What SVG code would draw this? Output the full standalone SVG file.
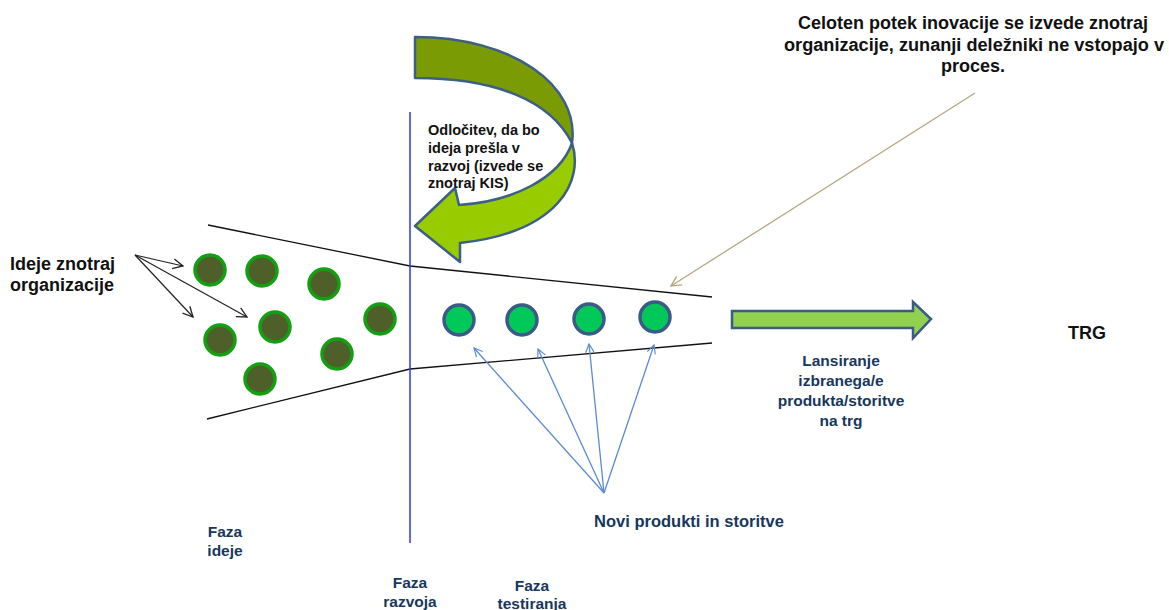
<svg xmlns="http://www.w3.org/2000/svg" width="1169" height="610" viewBox="0 0 1169 610">
<style>
  text { font-family: "Liberation Sans", Arial, sans-serif; font-weight: bold; }
  .blk { fill: #111111; }
  .navy { fill: #17375e; }
  .funnel { stroke: #111111; stroke-width: 1.3; fill: none; }
  .idea { fill: #4f5f2a; stroke: #12a012; stroke-width: 3.5; }
  .prod { fill: #00c95a; stroke: #3b5a88; stroke-width: 3.5; }
  .blue { stroke: #5b8bd0; stroke-width: 1.3; fill: none; }
  .black { stroke: #222222; stroke-width: 1.2; fill: none; }
  .tan { stroke: #b3a87e; stroke-width: 1.3; fill: none; }
</style>
<defs>
  <marker id="mBlue" viewBox="0 0 12 12" refX="11" refY="6" markerWidth="10" markerHeight="10" orient="auto" markerUnits="userSpaceOnUse">
    <path d="M1,1 L11,6 L1,11" fill="none" stroke="#5b8bd0" stroke-width="1.4"/>
  </marker>
  <marker id="mBlack" viewBox="0 0 12 12" refX="11" refY="6" markerWidth="12" markerHeight="12" orient="auto" markerUnits="userSpaceOnUse">
    <path d="M1,1 L11,6 L1,11" fill="none" stroke="#222222" stroke-width="1.3"/>
  </marker>
  <marker id="mTan" viewBox="0 0 12 12" refX="11" refY="6" markerWidth="12" markerHeight="12" orient="auto" markerUnits="userSpaceOnUse">
    <path d="M1,1 L11,6 L1,11" fill="none" stroke="#b3a87e" stroke-width="1.4"/>
  </marker>
</defs>
<rect width="1169" height="610" fill="#ffffff"/>

<g id="funnel">
  <polyline class="funnel" points="208,225 410,266 712,297"/>
  <polyline class="funnel" points="207,419 410,369 712,343"/>
</g>

<g id="phase-divider">
  <line x1="410" y1="112" x2="410" y2="543" stroke="#3333ee" stroke-width="1.5"/>
</g>

<g id="curved-arrow">
  <path d="M415,37 C512,37 580,85 572,143 C550,100 495,78 415,78 Z" fill="#7a9b03" stroke="#3d5f86" stroke-width="2.5" stroke-linejoin="round"/>
  <path d="M572,143 C584,180 560,232 460,243 L460,262 L415,226 L455,188 L459,205 C512,202 560,178 572,143 Z" fill="#99cc00" stroke="#3d5f86" stroke-width="2.5" stroke-linejoin="round"/>
</g>

<g id="decision-text">
  <text class="blk" font-size="14.5" x="428" y="135">Odločitev, da bo</text>
  <text class="blk" font-size="14.5" x="428" y="153">ideja prešla v</text>
  <text class="blk" font-size="14.5" x="428" y="171">razvoj (izvede se</text>
  <text class="blk" font-size="14.5" x="428" y="188">znotraj KIS)</text>
</g>

<g id="ideas">
  <circle class="idea" cx="210" cy="270" r="15"/>
  <circle class="idea" cx="262" cy="271" r="15"/>
  <circle class="idea" cx="324" cy="284" r="15"/>
  <circle class="idea" cx="380" cy="319" r="15"/>
  <circle class="idea" cx="275" cy="327" r="15"/>
  <circle class="idea" cx="220" cy="340" r="15"/>
  <circle class="idea" cx="337" cy="354" r="15"/>
  <circle class="idea" cx="260" cy="379" r="15"/>
</g>

<g id="products">
  <circle class="prod" cx="459" cy="320" r="15"/>
  <circle class="prod" cx="522" cy="320" r="15"/>
  <circle class="prod" cx="589" cy="319" r="15"/>
  <circle class="prod" cx="655" cy="317" r="15"/>
</g>

<g id="launch-arrow">
  <path d="M732,311 L913,311 L913,302 L931,319 L913,338 L913,328 L732,328 Z" fill="#92d050" stroke="#3b5a88" stroke-width="2.5" stroke-linejoin="miter"/>
</g>

<g id="connectors">
  <line class="black" x1="135" y1="255" x2="183" y2="266" marker-end="url(#mBlack)"/>
  <line class="black" x1="135" y1="255" x2="193" y2="317" marker-end="url(#mBlack)"/>
  <line class="black" x1="135" y1="255" x2="247" y2="317" marker-end="url(#mBlack)"/>
  <line class="blue" x1="604" y1="493" x2="474" y2="348" marker-end="url(#mBlue)"/>
  <line class="blue" x1="604" y1="493" x2="538" y2="349" marker-end="url(#mBlue)"/>
  <line class="blue" x1="604" y1="493" x2="589" y2="344" marker-end="url(#mBlue)"/>
  <line class="blue" x1="604" y1="493" x2="654" y2="345" marker-end="url(#mBlue)"/>
  <line class="tan" x1="975" y1="93" x2="671" y2="286" marker-end="url(#mTan)"/>
</g>

<g id="label-ideas">
  <text class="blk" font-size="18" x="10" y="270">Ideje znotraj</text>
  <text class="blk" font-size="18" x="10" y="291">organizacije</text>
</g>

<g id="label-process">
  <text class="blk" font-size="18" x="973" y="29" text-anchor="middle">Celoten potek inovacije se izvede znotraj</text>
  <text class="blk" font-size="18" x="784" y="51" textLength="380" lengthAdjust="spacingAndGlyphs">organizacije, zunanji deležniki ne vstopajo v</text>
  <text class="blk" font-size="18" x="973" y="72" text-anchor="middle">proces.</text>
</g>

<g id="label-trg">
  <text class="blk" font-size="18" x="1087" y="339" text-anchor="middle">TRG</text>
</g>

<g id="label-launch">
  <text class="navy" font-size="15.5" x="841" y="366" text-anchor="middle">Lansiranje</text>
  <text class="navy" font-size="15.5" x="841" y="386" text-anchor="middle">izbranega/e</text>
  <text class="navy" font-size="15.5" x="841" y="406" text-anchor="middle">produkta/storitve</text>
  <text class="navy" font-size="15.5" x="841" y="426" text-anchor="middle">na trg</text>
</g>

<g id="label-products">
  <text class="navy" font-size="16.5" x="689" y="527" text-anchor="middle">Novi produkti in storitve</text>
</g>

<g id="label-phase-idea">
  <text class="navy" font-size="15.5" x="225" y="537" text-anchor="middle">Faza</text>
  <text class="navy" font-size="15.5" x="225" y="556" text-anchor="middle">ideje</text>
</g>

<g id="label-phase-dev">
  <text class="navy" font-size="15.5" x="410" y="588" text-anchor="middle">Faza</text>
  <text class="navy" font-size="15.5" x="410" y="607" text-anchor="middle">razvoja</text>
</g>

<g id="label-phase-test">
  <text class="navy" font-size="15.5" x="532" y="591" text-anchor="middle">Faza</text>
  <text class="navy" font-size="15.5" x="532" y="609" text-anchor="middle">testiranja</text>
</g>
</svg>
